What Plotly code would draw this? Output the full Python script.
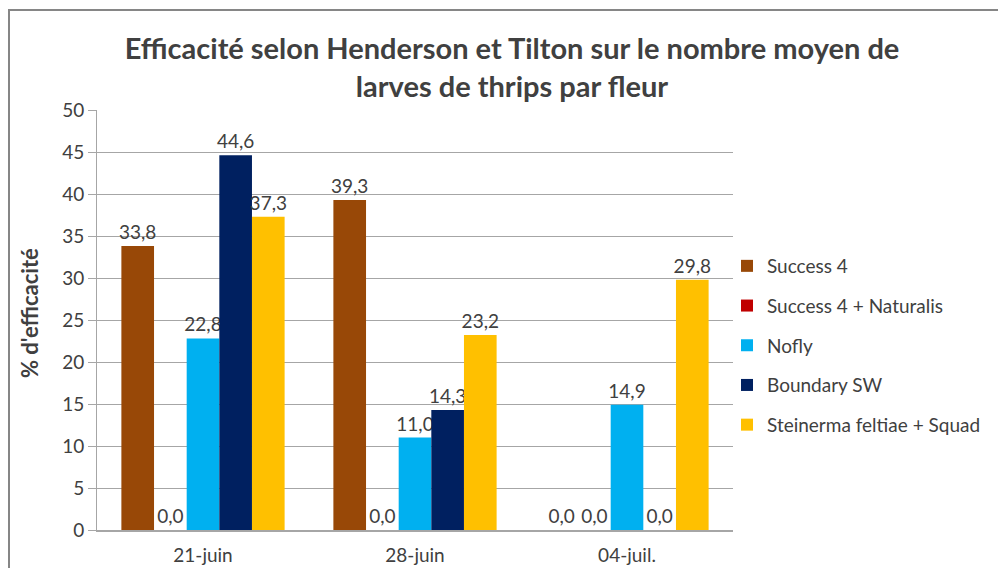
import plotly.graph_objects as go

categories = ["21-juin", "28-juin", "04-juil."]
series_names = ["Success 4", "Success 4 + Naturalis", "Nofly", "Boundary SW", "Steinerma feltiae + Squad"]
success4 = [33.8, 39.3, 0.0]
success4_naturalis = [0.0, 0.0, 0.0]
nofly = [22.8, 11.0, 14.9]
boundary_sw = [44.6, 14.3, 0.0]
steinerma_squad = [37.3, 23.2, 29.8]
colors = ["#984807", "#C00000", "#00B0F0", "#002060", "#FFC000"]
y_ticks = [0, 5, 10, 15, 20, 25, 30, 35, 40, 45, 50]

FONT = "Lato"
TXT = "#404040"
FS = 19

fig = go.Figure()
for i, (name, vals) in enumerate(zip(series_names, [success4, success4_naturalis, nofly, boundary_sw, steinerma_squad])):
    fig.add_trace(go.Bar(
        x=categories, y=vals, name=name,
        marker=dict(color=colors[i], line=dict(width=0)),
        texttemplate="%{y:.1f}", textposition="outside",
        textfont=dict(family=FONT, size=FS, color=TXT),
        constraintext="none",
        cliponaxis=False, legendgroup=name,
    ))

# page has an 8px body margin on every side; work in page pixels and convert
OFF = 8
W, H = 1006 - 2 * OFF, 576 - 2 * OFF
L, T = 97 - OFF, 110 - OFF
R = W - (733 - OFF)
B = H - (530 - OFF)
pw, ph = W - L - R, H - T - B

def px(x):
    return (x - OFF - L) / pw

def py(y):
    return (H - B - (y - OFF)) / ph

fig.update_layout(
    width=W, height=H,
    margin=dict(l=L, r=R, t=T, b=B, pad=0, autoexpand=False),
    paper_bgcolor="white", plot_bgcolor="white",
    separators=", ",
    barmode="group", bargap=0.23, bargroupgap=0,
    font=dict(family=FONT, color=TXT, size=FS),
    title=dict(
        text="Efficacité selon Henderson et Tilton sur le nombre moyen de<br>larves de thrips par fleur",
        x=px(512), xref="paper", xanchor="center",
        y=1 - 51 / H, yanchor="top",
        font=dict(family=FONT, size=29, color=TXT, weight="bold"),
    ),
    xaxis=dict(
        showgrid=False, showline=True, linecolor="#A6A6A6", linewidth=1.5,
        ticks="outside", ticklen=7, tickcolor="rgba(0,0,0,0)",
        tickfont=dict(family=FONT, size=FS, color=TXT), automargin=False,
    ),
    yaxis=dict(
        range=[0, 50], tickvals=y_ticks, showgrid=True, gridcolor="#A6A6A6", gridwidth=1,
        showline=True, linecolor="#A6A6A6", linewidth=1, ticks="outside", ticklen=8,
        tickcolor="#A6A6A6", tickfont=dict(family=FONT, size=FS, color=TXT),
        zeroline=False, automargin=False,
    ),
    annotations=[dict(
        text="% d'efficacité", xref="paper", yref="paper",
        x=px(29), y=py(313), xanchor="center", yanchor="middle",
        textangle=-90, showarrow=False,
        font=dict(family=FONT, size=22, color=TXT, weight="bold"),
    )],
    legend=dict(
        x=px(727), y=py(247), xanchor="left", yanchor="top",
        font=dict(family=FONT, size=FS, color=TXT),
        traceorder="grouped", tracegroupgap=12, itemwidth=30,
        bgcolor="rgba(0,0,0,0)",
    ),
    showlegend=True,
    shapes=[dict(type="rect", xref="paper", yref="paper",
                 x0=px(9), x1=px(1030), y0=py(600), y1=py(10),
                 line=dict(color="#868686", width=2), fillcolor="rgba(0,0,0,0)", layer="below")],
)

fig.write_html("out.html")
